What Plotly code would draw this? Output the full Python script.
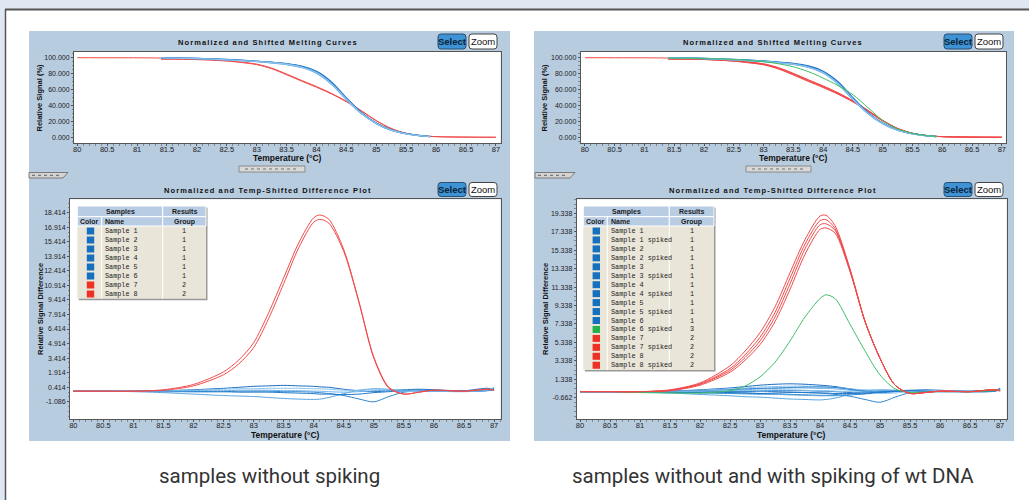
import plotly.graph_objects as go

W, H = 1029, 500

# ---------------- data ----------------
x_ticks = [80, 80.5, 81, 81.5, 82, 82.5, 83, 83.5, 84, 84.5, 85, 85.5, 86, 86.5, 87]
x_tick_text = ["80", "80.5", "81", "81.5", "82", "82.5", "83", "83.5", "84", "84.5",
               "85", "85.5", "86", "86.5", "87"]
melt_y_ticks = [0, 20, 40, 60, 80, 100]
melt_y_text = ["0.000", "20.000", "40.000", "60.000", "80.000", "100.000"]
diff_left_y_ticks = [-1.086, 0.414, 1.914, 3.414, 4.914, 6.414, 7.914, 9.414, 10.914,
                     12.414, 13.914, 15.414, 16.914, 18.414]
diff_left_y_text = ["-1.086", "0.414", "1.914", "3.414", "4.914", "6.414", "7.914", "9.414",
                    "10.914", "12.414", "13.914", "15.414", "16.914", "18.414"]
diff_right_y_ticks = [-0.662, 1.338, 3.338, 5.338, 7.338, 9.338, 11.338, 13.338, 15.338,
                      17.338, 19.338]
diff_right_y_text = ["-0.662", "1.338", "3.338", "5.338", "7.338", "9.338", "11.338",
                     "13.338", "15.338", "17.338", "19.338"]

# melting curves (temperature grids)
melt_t_blue = [81.4, 81.75, 82, 82.5, 83, 83.25, 83.5, 83.75, 84, 84.25, 84.5, 84.75, 85,
               85.25, 85.5, 85.75, 85.9]
melt_t_red = [80, 81, 81.4, 82, 82.5, 82.75, 83, 83.25, 83.5, 83.75, 84, 84.25, 84.5, 84.75,
              85, 85.25, 85.5, 85.75, 86, 86.5, 87]

# left panel melting curves
melt_left_blue_1 = [100, 99.6, 99.2, 97.8, 95.8, 94.3, 92.6, 89.4, 82.8, 69.5, 49.5, 31, 17.8, 9.2, 4.6, 1.9, 0.9]
melt_left_blue_2 = [99.6, 99.3, 98.9, 97.3, 95.1, 93.5, 91.5, 87.8, 80.6, 66.8, 47.2, 29.8, 17.2, 8.9, 4.4, 1.8, 0.9]
melt_left_blue_3 = [99.8, 99.4, 99.0, 97.6, 95.5, 94.0, 92.1, 88.7, 81.8, 68.2, 48.5, 30.5, 17.5, 9.0, 4.5, 1.8, 0.9]
melt_left_blue_4 = [99.7, 99.3, 98.9, 97.4, 95.3, 93.7, 91.8, 88.1, 81.2, 67.4, 47.8, 30.1, 17.3, 8.9, 4.4, 1.8, 0.9]
melt_left_red_1 = [100, 99.9, 99.6, 98.3, 96.3, 94.5, 92.0, 87.0, 79.5, 71.5, 63.8, 55.2, 45.2, 33.4, 21.0, 11.0, 5.0, 2.0, 0.8, 0.2, 0.0]
melt_left_red_2 = [None, None, 98.0, 97.6, 95.8, 93.9, 91.3, 86.2, 78.6, 70.6, 62.9, 54.5, 44.6, 32.9, 20.6, 10.8, 4.9, 2.0, 0.8, 0.2, 0.0]

# right panel melting curves
melt_right_blue_1 = [100, 99.6, 99.2, 97.9, 96.0, 94.5, 92.8, 89.6, 83.0, 69.8, 49.8, 31.2, 17.9, 9.2, 4.6, 1.9, 0.9]
melt_right_blue_2 = [99.5, 99.2, 98.8, 97.3, 95.2, 93.6, 91.6, 87.9, 80.8, 67.0, 47.4, 29.9, 17.2, 8.9, 4.4, 1.8, 0.9]
melt_right_blue_3 = [99.8, 99.4, 99.0, 97.6, 95.6, 94.1, 92.2, 88.8, 81.9, 68.4, 48.6, 30.6, 17.5, 9.0, 4.5, 1.8, 0.9]
melt_right_blue_4 = [99.7, 99.3, 98.9, 97.4, 95.3, 93.8, 91.9, 88.2, 81.3, 67.6, 47.9, 30.2, 17.3, 8.9, 4.4, 1.8, 0.9]
melt_right_green = [99.5, 99.3, 99.0, 97.8, 95.0, 92.4, 88.6, 82.6, 74.4, 65.0, 53.5, 37.5, 21.0, 10.5, 4.8, 1.9, 1.0]
melt_right_red_1 = [100, 99.9, 99.6, 98.4, 96.5, 94.8, 92.4, 87.6, 80.4, 72.4, 64.6, 56.0, 46.0, 34.0, 21.4, 11.2, 5.1, 2.0, 0.8, 0.2, 0.0]
melt_right_red_2 = [None, None, 98.2, 97.7, 95.9, 94.0, 91.5, 86.4, 78.9, 70.9, 63.2, 54.8, 45.0, 33.2, 20.8, 10.9, 5.0, 2.0, 0.8, 0.2, 0.0]
melt_right_red_3 = [None, None, 98.6, 98.0, 96.2, 94.4, 91.9, 87.0, 79.7, 71.7, 63.9, 55.4, 45.5, 33.6, 21.1, 11.0, 5.0, 2.0, 0.8, 0.2, 0.0]
melt_right_red_4 = [None, None, 98.4, 97.8, 95.6, 93.6, 91.1, 85.9, 78.3, 70.3, 62.5, 54.1, 44.4, 32.7, 20.4, 10.7, 4.9, 2.0, 0.8, 0.2, 0.0]

# difference plots
diff_t = [80, 80.5, 81, 81.5, 82, 82.5, 82.75, 83, 83.25, 83.5, 83.75, 84, 84.1, 84.25,
          84.5, 84.75, 85, 85.25, 85.5, 85.75, 86, 86.5, 86.9, 87]

left_samples = ["Sample 1", "Sample 2", "Sample 3", "Sample 4", "Sample 5", "Sample 6",
                "Sample 7", "Sample 8"]
left_groups = ["1", "1", "1", "1", "1", "1", "2", "2"]
left_colors = ["#1670c0"] * 6 + ["#ee3124"] * 2
left_diff = [
    [0, 0, 0.0, 0.05, 0.15, 0.3, 0.4, 0.5, 0.55, 0.6, 0.55, 0.5, 0.45, 0.4, 0.2, 0.05, -0.05, 0.05, 0.15, 0.2, 0.15, 0.05, 0.3, 0.1],
    [0, 0, -0.05, -0.15, -0.3, -0.45, -0.5, -0.55, -0.65, -0.75, -0.82, -0.85, -0.82, -0.65, -0.25, 0.1, 0.25, 0.2, 0.0, -0.05, 0.0, 0.0, 0.1, 0.2],
    [0, 0, 0.0, -0.05, -0.05, -0.05, 0.0, 0.0, 0.0, -0.05, -0.05, -0.1, -0.15, -0.25, -0.45, -0.8, -1.1, -0.55, -0.1, 0.05, 0.05, 0.0, 0.1, 0.3],
    [0, 0, 0.0, 0.05, 0.1, 0.2, 0.25, 0.25, 0.3, 0.3, 0.3, 0.25, 0.25, 0.2, 0.1, 0.1, 0.2, 0.15, -0.05, 0.0, 0.05, 0.0, 0.1, 0.2],
    [0, 0, 0.0, 0.0, -0.05, -0.05, -0.1, -0.1, -0.1, -0.15, -0.2, -0.25, -0.3, -0.3, -0.35, -0.3, -0.15, -0.05, 0.05, 0.1, 0.05, 0.0, 0.05, 0.2],
    [0, 0, 0.0, 0.0, 0.05, 0.05, 0.1, 0.1, 0.1, 0.05, 0.05, 0.0, 0.0, -0.05, -0.1, -0.05, 0.05, 0.1, 0.1, 0.05, 0.0, -0.05, 0.1, 0.4],
    [0, 0, 0.0, 0.15, 0.7, 2.0, 3.2, 5.0, 8.1, 11.7, 15.3, 17.9, 18.18, 17.75, 14.6, 9.3, 3.5, 0.4, -0.3, -0.1, 0.1, 0.0, 0.2, 0.1],
    [0, 0, 0.0, 0.1, 0.55, 1.7, 2.8, 4.5, 7.5, 11.1, 14.8, 17.45, 17.73, 17.35, 14.4, 9.2, 3.4, 0.3, -0.3, -0.1, 0.1, 0.0, 0.2, 0.1],
]

right_samples = ["Sample 1", "Sample 1 spiked", "Sample 2", "Sample 2 spiked", "Sample 3",
                 "Sample 3 spiked", "Sample 4", "Sample 4 spiked", "Sample 5",
                 "Sample 5 spiked", "Sample 6", "Sample 6 spiked", "Sample 7",
                 "Sample 7 spiked", "Sample 8", "Sample 8 spiked"]
right_groups = ["1"] * 11 + ["3", "2", "2", "2", "2"]
right_colors = ["#1670c0"] * 11 + ["#22b24c"] + ["#ee3124"] * 4
right_diff = [
    [0, 0, 0.0, 0.05, 0.2, 0.4, 0.55, 0.7, 0.8, 0.85, 0.8, 0.7, 0.65, 0.55, 0.3, 0.1, 0.0, 0.1, 0.15, 0.2, 0.15, 0.05, 0.2, 0.1],
    [0, 0, -0.05, -0.15, -0.3, -0.45, -0.55, -0.6, -0.7, -0.8, -0.85, -0.9, -0.85, -0.7, -0.3, 0.05, 0.2, 0.15, 0.0, -0.05, 0.0, 0.0, 0.1, 0.2],
    [0, 0, 0.0, -0.05, -0.05, 0.0, 0.0, 0.05, 0.0, -0.05, -0.1, -0.15, -0.2, -0.3, -0.5, -0.85, -1.15, -0.6, -0.1, 0.05, 0.05, 0.0, 0.1, 0.3],
    [0, 0, 0.0, 0.05, 0.15, 0.3, 0.4, 0.5, 0.55, 0.6, 0.6, 0.55, 0.5, 0.45, 0.3, 0.2, 0.2, 0.1, 0.0, 0.05, 0.1, 0.0, 0.1, 0.2],
    [0, 0, 0.0, 0.0, -0.05, -0.1, -0.15, -0.2, -0.25, -0.3, -0.35, -0.4, -0.4, -0.4, -0.35, -0.25, -0.1, 0.0, 0.05, 0.1, 0.05, 0.0, 0.05, 0.2],
    [0, 0, 0.0, 0.05, 0.1, 0.15, 0.2, 0.3, 0.35, 0.4, 0.4, 0.35, 0.35, 0.3, 0.15, 0.05, 0.1, 0.1, -0.05, 0.0, 0.05, 0.0, 0.1, 0.3],
    [0, 0, 0.0, 0.0, 0.0, 0.05, 0.05, 0.1, 0.1, 0.1, 0.1, 0.05, 0.05, 0.0, -0.1, -0.15, -0.05, 0.05, 0.1, 0.1, 0.05, 0.0, 0.05, 0.4],
    [0, 0, -0.05, -0.1, -0.15, -0.2, -0.25, -0.3, -0.3, -0.35, -0.4, -0.45, -0.45, -0.45, -0.3, -0.1, 0.05, 0.1, 0.05, 0.0, 0.0, 0.0, 0.1, 0.2],
    [0, 0, 0.0, 0.05, 0.1, 0.2, 0.3, 0.35, 0.4, 0.45, 0.5, 0.5, 0.5, 0.45, 0.25, 0.0, -0.1, 0.0, 0.05, 0.1, 0.1, 0.05, 0.15, 0.2],
    [0, 0, 0.0, 0.0, 0.05, 0.1, 0.1, 0.15, 0.2, 0.2, 0.15, 0.1, 0.1, 0.05, 0.0, -0.05, -0.2, -0.15, 0.0, 0.1, 0.1, 0.0, 0.1, 0.3],
    [0, 0, 0.0, -0.05, -0.1, -0.15, -0.15, -0.2, -0.15, -0.1, -0.1, -0.15, -0.15, -0.2, -0.2, -0.15, -0.05, 0.05, 0.1, 0.05, 0.0, 0.0, 0.05, 0.2],
    [0, 0, -0.1, -0.15, -0.15, 0.1, 0.6, 1.6, 3.2, 5.5, 8.1, 10.1, 10.5, 10.1, 7.3, 4.4, 1.8, 0.3, -0.1, -0.05, 0.0, 0.0, 0.1, 0.1],
    [0, 0, 0.0, 0.2, 0.95, 2.8, 4.4, 6.4, 9.2, 12.9, 16.5, 19.05, 19.12, 18.0, 13.3, 7.6, 3.6, 0.7, -0.2, -0.1, 0.05, 0.0, 0.2, 0.1],
    [0, 0, 0.0, 0.15, 0.85, 2.5, 4.0, 5.9, 8.6, 12.3, 16.0, 18.55, 18.65, 17.7, 13.2, 7.6, 3.6, 0.7, -0.2, -0.1, 0.05, 0.0, 0.2, 0.1],
    [0, 0, 0.0, 0.12, 0.8, 2.3, 3.7, 5.5, 8.1, 11.7, 15.5, 18.1, 18.2, 17.5, 13.1, 7.6, 3.6, 0.7, -0.2, -0.1, 0.05, 0.0, 0.2, 0.1],
    [0, 0, 0.0, 0.1, 0.7, 2.1, 3.4, 5.1, 7.6, 11.1, 14.9, 17.6, 17.75, 17.2, 13.0, 7.6, 3.6, 0.7, -0.2, -0.1, 0.05, 0.0, 0.2, 0.1],
]

captions = ["samples without spiking", "samples without and with spiking of wt DNA"]
title_top = "Normalized and Shifted Melting Curves"
title_bottom = "Normalized and Temp-Shifted Difference Plot"

# ---------------- styling ----------------
SANS = "Liberation Sans, Arial, sans-serif"
MONO = "Liberation Mono, Courier New, monospace"
CAP = "Roboto, Noto Sans, sans-serif"
PANEL = "#b8cce0"
BLUES = ["#1a6ebf", "#5aa5e0", "#2f86d0", "#8cc3ec", "#1f78c8", "#6db0e6"]
RED = "#f04a4a"
GREEN = "#3cbf63"


def X(p):
    return p / W


def Y(p):
    return 1 - p / H


shapes = []
annotations = []


def rect(x0, y0, x1, y1, fill, line=None, lw=0, layer="below"):
    shapes.append(dict(type="rect", xref="paper", yref="paper", x0=X(x0), x1=X(x1),
                       y0=Y(y1), y1=Y(y0), fillcolor=fill, layer=layer,
                       line=dict(color=line if line else fill, width=lw)))


def seg(x0, y0, x1, y1, color, lw=1, dash="solid", layer="above"):
    shapes.append(dict(type="line", xref="paper", yref="paper", x0=X(x0), x1=X(x1),
                       y0=Y(y0), y1=Y(y1), layer=layer,
                       line=dict(color=color, width=lw, dash=dash)))


def rrect(x0, y0, x1, y1, r, fill, line, lw=1):
    p = (f"M {X(x0 + r)},{Y(y0)} L {X(x1 - r)},{Y(y0)} Q {X(x1)},{Y(y0)} {X(x1)},{Y(y0 + r)} "
         f"L {X(x1)},{Y(y1 - r)} Q {X(x1)},{Y(y1)} {X(x1 - r)},{Y(y1)} "
         f"L {X(x0 + r)},{Y(y1)} Q {X(x0)},{Y(y1)} {X(x0)},{Y(y1 - r)} "
         f"L {X(x0)},{Y(y0 + r)} Q {X(x0)},{Y(y0)} {X(x0 + r)},{Y(y0)} Z")
    shapes.append(dict(type="path", xref="paper", yref="paper", path=p, fillcolor=fill,
                       line=dict(color=line, width=lw), layer="above"))


def poly(pts, fill, line, lw=1):
    p = "M " + " L ".join(f"{X(a)},{Y(b)}" for a, b in pts) + " Z"
    shapes.append(dict(type="path", xref="paper", yref="paper", path=p, fillcolor=fill,
                       line=dict(color=line, width=lw), layer="above"))


def text(x, y, s, size, color="#000", family=SANS, xanchor="center", angle=0):
    annotations.append(dict(x=X(x), y=Y(y), xref="paper", yref="paper", text=s,
                            showarrow=False, xanchor=xanchor, yanchor="middle",
                            textangle=angle, font=dict(family=family, size=size, color=color)))


# page frame
rect(0, 0, W, 9, "#dfe7f3")
rect(0, 0, 5, H, "#dfe7f3")
seg(5, 9.5, W, 9.5, "#555555", 2, layer="below")
seg(5.5, 9.5, 5.5, H, "#555555", 1.5, layer="below")

panels = [
    dict(px0=29, px1=510, top=(74, 52, 500.7, 143), bot=(70, 199.3, 500.7, 419.3),
         btn=438, slider=(239, 305), tab=(29, 68), table=(77.3, 101.7, 162.7, 206),
         samples=left_samples, groups=left_groups, colors=left_colors, cap_x=269),
    dict(px0=534, px1=1014, top=(580.7, 52, 1006, 143), bot=(576.7, 199.3, 1006.7, 419.3),
         btn=944, slider=(746, 811), tab=(535, 575), table=(583.3, 607.3, 669.3, 714),
         samples=right_samples, groups=right_groups, colors=right_colors, cap_x=773),
]

SPACED = '<span style="letter-spacing:1.1px">{}</span>'

for k, P in enumerate(panels):
    rect(P["px0"], 31, P["px1"], 441, PANEL)
    for box in (P["top"], P["bot"]):
        rect(box[0], box[1], box[2], box[3], "white")
    cx_top = (P["top"][0] + P["top"][2]) / 2
    cx_bot = (P["bot"][0] + P["bot"][2]) / 2
    # titles
    text(P["px0"] + 238.5, 43, "<b>" + SPACED.format(title_top) + "</b>", 7.5, "#111", SANS)
    text(P["px0"] + 238.5, 190, "<b>" + SPACED.format(title_bottom) + "</b>", 7.5, "#111", SANS)
    # buttons
    for yb in ((34, 49), (182.5, 196.5)):
        bx = P["btn"]
        rrect(bx, yb[0], bx + 28, yb[1], 3, "#3d93d3", "#2a4f72", 1)
        rrect(bx + 31, yb[0], bx + 59, yb[1], 3, "white", "#444444", 1)
        text(bx + 14, (yb[0] + yb[1]) / 2, "<b>Select</b>", 9.5, "#0c2238", SANS)
        text(bx + 45, (yb[0] + yb[1]) / 2, "Zoom", 9.5, "#111111", SANS)
    # axis titles
    text(cx_top, 158.5, "<b>Temperature (°C)</b>", 8.5, "#111", SANS)
    text(cx_bot, 434.5, "<b>Temperature (°C)</b>", 8.5, "#111", SANS)
    text(P["px0"] + 10, 97.5, "<b>Relative Signal (%)</b>", 7.5, "#111", SANS, angle=-90)
    text(P["px0"] + 11, 309, "<b>Relative Signal Difference</b>", 7.5, "#111", SANS, angle=-90)
    # slider + tab
    s0, s1 = P["slider"]
    rect(s0, 166, s1, 172, "#d9d9d9", "#8a8a8a", 1, layer="above")
    seg(s0 + 6, 169, s1 - 6, 169, "#6f6f6f", 1, dash="dot")
    t0, t1 = P["tab"]
    poly([(t0, 172.5), (t1, 172.5), (t1 - 5, 178), (t0, 178)], "#d4d4d4", "#7a7a7a", 1)
    seg(t0 + 3, 175.3, t1 - 9, 175.3, "#5f5f5f", 1, dash="dot")
    # legend table
    c0, c1, c2, c3 = P["table"]
    n = len(P["samples"])
    row_h = 8.95 if n > 8 else 9.0
    body_bot = 226 + row_h * n + 0.8
    rect(c0 + 1.5, 207.5, c3 + 1.5, body_bot + 1.5, "#9a9a9a", layer="above")
    rect(c0, 226, c3, body_bot, "#e9e5d8", layer="above")
    for (a, b) in ((c0, c2), (c2, c3)):
        rect(a, 206, b, 216.7, "#b8cde3", "white", 1, layer="above")
    for (a, b) in ((c0, c1), (c1, c2), (c2, c3)):
        rect(a, 216.7, b, 226, "#b8cde3", "white", 1, layer="above")
    seg(c1, 226, c1, body_bot, "#ffffff", 1)
    seg(c2, 226, c2, body_bot, "#ffffff", 1)
    text((c0 + c2) / 2, 211.5, "<b>Samples</b>", 7, "#1b1b1b", SANS)
    text((c2 + c3) / 2, 211.5, "<b>Results</b>", 7, "#1b1b1b", SANS)
    text((c0 + c1) / 2, 221.5, "<b>Color</b>", 7, "#1b1b1b", SANS)
    text(c1 + 1.5, 221.5, "<b>Name</b>", 7, "#1b1b1b", SANS, xanchor="left")
    text((c2 + c3) / 2, 221.5, "<b>Group</b>", 7, "#1b1b1b", SANS)
    for i in range(n):
        ry = 231 + row_h * i
        sx = (c0 + c1) / 2 + 1
        rect(sx - 3.7, ry - 3.5, sx + 3.7, ry + 3.5, P["colors"][i], layer="above")
        text(c1 + 1.5, ry, P["samples"][i], 6.8, "#222", MONO, xanchor="left")
        text((c2 + c3) / 2, ry, P["groups"][i], 6.8, "#222", MONO)
    # caption
    text(P["cap_x"], 476, captions[k], 20.5, "#333333", CAP)

fig = go.Figure()


def add(x, y, color, ax, width=1):
    fig.add_trace(go.Scatter(x=x, y=y, mode="lines", xaxis="x" + ax, yaxis="y" + ax,
                             line=dict(color=color, width=width, shape="spline", smoothing=0.8),
                             hoverinfo="skip", showlegend=False))


# left melt
add(melt_t_red, melt_left_red_1, RED, "")
add(melt_t_red, melt_left_red_2, RED, "")
for i, c in enumerate([melt_left_blue_1, melt_left_blue_2, melt_left_blue_3, melt_left_blue_4]):
    add(melt_t_blue, c, BLUES[i], "", 1.3)
# left diff
for i, c in enumerate(left_diff):
    col = RED if left_colors[i] == "#ee3124" else BLUES[i % len(BLUES)]
    add(diff_t, c, col, "2")
# right melt
for c in [melt_right_red_1, melt_right_red_2, melt_right_red_3, melt_right_red_4]:
    add(melt_t_red, c, RED, "3")
for i, c in enumerate([melt_right_blue_1, melt_right_blue_2, melt_right_blue_3, melt_right_blue_4]):
    add(melt_t_blue, c, BLUES[i], "3", 1.3)
add(melt_t_blue, melt_right_green, GREEN, "3")
# right diff
for i, c in enumerate(right_diff):
    if right_colors[i] == "#ee3124":
        col = RED
    elif right_colors[i] == "#22b24c":
        col = GREEN
    else:
        col = BLUES[i % len(BLUES)]
    add(diff_t, c, col, "4")

common = dict(showline=True, linecolor="#555555", linewidth=1, mirror=True, showgrid=False,
              zeroline=False, ticks="outside", ticklen=2, tickcolor="#555555", fixedrange=True)


def xax(box, rng, anchor):
    return dict(domain=[X(box[0]), X(box[2])], range=rng, anchor=anchor, tickmode="array",
                tickvals=x_ticks, ticktext=x_tick_text, ticklabelstandoff=-3,
                tickfont=dict(family=SANS, size=7.5, color="#222222"),
                minor=dict(ticks="outside", ticklen=1.5, dtick=0.1, tickcolor="#888888"), **common)


def yax(box, rng, anchor, tv, tt, minor_dtick, tick0):
    return dict(domain=[Y(box[3]), Y(box[1])], range=rng, anchor=anchor, tickmode="array",
                tickvals=tv, ticktext=tt,
                tickfont=dict(family=SANS, size=7, color="#222222"),
                minor=dict(ticks="outside", ticklen=1.5, dtick=minor_dtick, tick0=tick0,
                           tickcolor="#888888"), **common)


L, R = panels
fig.update_layout(
    width=W, height=H, margin=dict(l=0, r=0, t=0, b=0), autosize=False,
    paper_bgcolor="white", plot_bgcolor="white", showlegend=False,
    xaxis=xax(L["top"], [79.945, 87.08], "y"),
    yaxis=yax(L["top"], [-7.2, 107.2], "x", melt_y_ticks, melt_y_text, 5, 0),
    xaxis2=xax(L["bot"], [79.945, 87.11], "y2"),
    yaxis2=yax(L["bot"], [-2.9, 19.8], "x2", diff_left_y_ticks, diff_left_y_text, 0.5, 0.414),
    xaxis3=xax(R["top"], [79.93, 87.07], "y3"),
    yaxis3=yax(R["top"], [-7.2, 107.2], "x3", melt_y_ticks, melt_y_text, 5, 0),
    xaxis4=xax(R["bot"], [79.945, 87.11], "y4"),
    yaxis4=yax(R["bot"], [-3.0, 20.86], "x4", diff_right_y_ticks, diff_right_y_text, 0.5, 0.338),
    shapes=shapes, annotations=annotations,
)

fig.write_html("out.html")
